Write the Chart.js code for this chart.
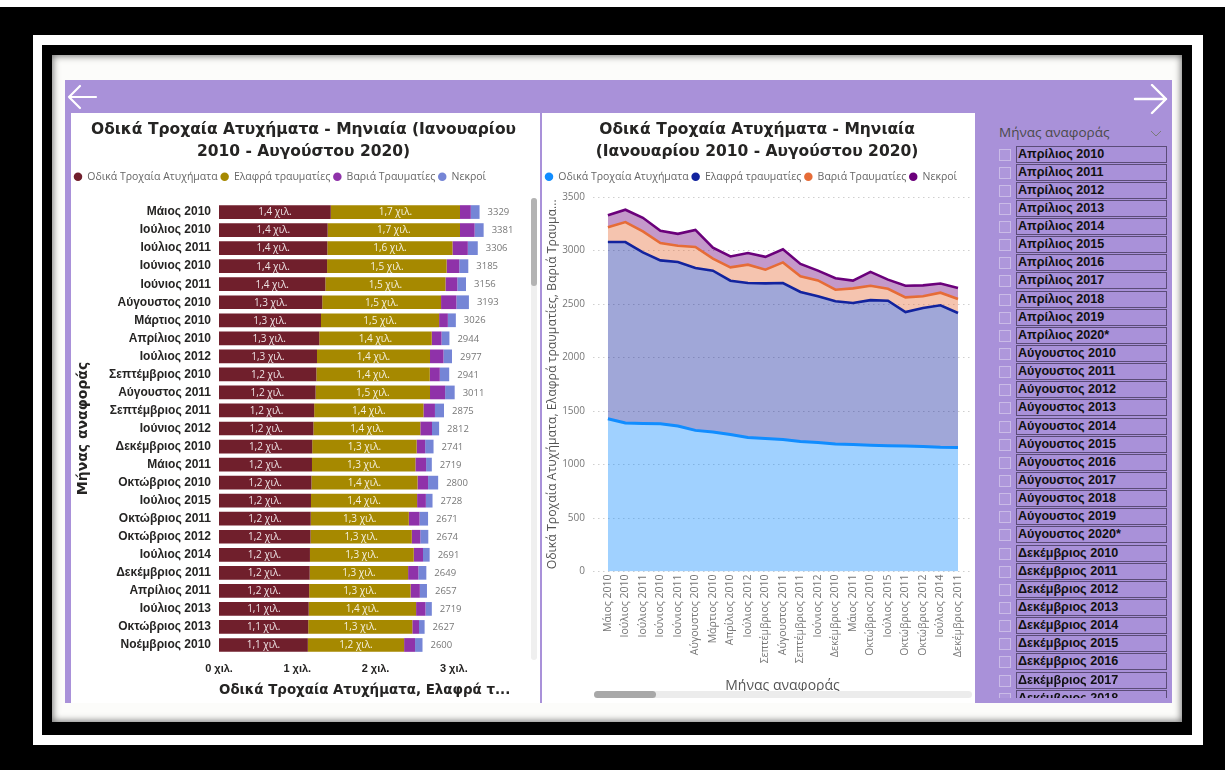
<!DOCTYPE html>
<html lang="el">
<head>
<meta charset="utf-8">
<title>Οδικά Τροχαία Ατυχήματα - Μηνιαία</title>
<script src="https://cdn.jsdelivr.net/npm/chart.js@4/dist/chart.umd.min.js"></script>
<style>
  html, body { margin:0; padding:0; }
  body { width:1225px; height:770px; overflow:hidden; background:#fff; position:relative; font-family:'Open Sans', sans-serif; }
  .abs { position:absolute; }
  #f1 { left:0; top:7px; width:1225px; height:763px; background:#000; }
  #f2 { left:33px; top:35px; width:1170px; height:710px; background:#fff; }
  #f3 { left:42px; top:45px; width:1150px; height:690px; background:#000; }
  #f4 { left:52px; top:55px; width:1130px; height:667px; background:#fcfcfa; box-shadow: inset 0 0 7px 1px rgba(0,0,0,0.55); }
  #panel { left:65px; top:80px; width:1107px; height:623px; background:#a991d9; }
  #cardL { left:71px; top:113px; width:469px; height:590px; background:#fff; }
  #cardR { left:542px; top:113px; width:433px; height:590px; background:#fff; }
  #barChart { left:71px; top:113px; }
  #areaChart { left:542px; top:113px; }
  #vTrack { left:531px; top:198px; width:6px; height:462px; background:#efefef; border-radius:3px; }
  #vThumb { left:531px; top:198px; width:6px; height:88px; background:#b3b3b3; border-radius:3px; }
  #hTrack { left:594px; top:691px; width:378px; height:7px; background:#ececec; border-radius:4px; }
  #hThumb { left:594px; top:691px; width:62px; height:7px; background:#a8a8a8; border-radius:4px; }
  #slTitle { left:999px; top:123px; font-size:13.5px; color:#4a4a4a; white-space:nowrap; }
  #slList { left:980px; top:144px; width:192px; height:554px; overflow:hidden; }
  .row { position:absolute; left:0; width:192px; height:17px; }
  .chk { position:absolute; left:19px; top:3px; width:10px; height:10px; border:1px solid rgba(255,255,255,0.35); background:rgba(255,255,255,0.06); }
  .lbl { position:absolute; left:36px; top:0; width:151px; height:17px; box-sizing:border-box; border:1px solid #5b4c78;
         font-family:'Liberation Sans', Arial, sans-serif; font-weight:bold; font-size:12.6px; line-height:15px; color:#111; padding-left:1px; white-space:nowrap; }
</style>
</head>
<body>
<div id="f1" class="abs"></div>
<div id="f2" class="abs"></div>
<div id="f3" class="abs"></div>
<div id="f4" class="abs"></div>
<div id="panel" class="abs"></div>
<svg class="abs" style="left:66px;top:84px" width="32" height="28"><path d="M3,13 H30 M3,13 L14,2 M3,13 L14,24" stroke="#fff" stroke-width="2.2" fill="none" stroke-linecap="round"/></svg>
<svg class="abs" style="left:1133px;top:84px" width="36" height="32"><path d="M2,15 H33 M33,15 L19,1 M33,15 L19,29" stroke="#fff" stroke-width="2.4" fill="none" stroke-linecap="round"/></svg>
<div id="cardL" class="abs"></div>
<div id="cardR" class="abs"></div>
<canvas id="barChart" class="abs" width="469" height="590"></canvas>
<canvas id="areaChart" class="abs" width="433" height="590"></canvas>
<div id="vTrack" class="abs"></div>
<div id="vThumb" class="abs"></div>
<div id="hTrack" class="abs"></div>
<div id="hThumb" class="abs"></div>
<div id="slTitle" class="abs">Μήνας αναφοράς</div>
<svg class="abs" style="left:1150px;top:130px" width="12" height="8"><polyline points="1,1 6,6 11,1" stroke="#7a7a7a" stroke-width="1" fill="none"/></svg>
<div id="slList" class="abs"></div>

<script>
// ---------- DATA ----------
const months = ['Μάιος 2010','Ιούλιος 2010','Ιούλιος 2011','Ιούνιος 2010','Ιούνιος 2011','Αύγουστος 2010','Μάρτιος 2010','Απρίλιος 2010','Ιούλιος 2012','Σεπτέμβριος 2010','Αύγουστος 2011','Σεπτέμβριος 2011','Ιούνιος 2012','Δεκέμβριος 2010','Μάιος 2011','Οκτώβριος 2010','Ιούλιος 2015','Οκτώβριος 2011','Οκτώβριος 2012','Ιούλιος 2014','Δεκέμβριος 2011','Απρίλιος 2011','Ιούλιος 2013','Οκτώβριος 2013','Νοέμβριος 2010'];
const accidents      = [1428,1388,1384,1381,1359,1319,1303,1281,1252,1244,1234,1216,1206,1191,1188,1181,1175,1172,1169,1162,1159,1152,1146,1140,1135];
const lightInjured   = [1651,1691,1599,1527,1534,1518,1509,1437,1444,1449,1462,1396,1366,1334,1321,1355,1356,1253,1294,1326,1257,1295,1372,1330,1230];
const seriousInjured = [138,187,196,162,152,196,112,125,172,128,193,147,149,109,137,135,112,137,109,118,131,119,120,85,140];
const deaths         = [112,115,127,115,111,160,102,101,109,120,122,116,91,107,73,129,85,109,102,85,102,91,81,72,95];
const seriesNames = ['Οδικά Τροχαία Ατυχήματα','Ελαφρά τραυματίες','Βαριά Τραυματίες','Νεκροί'];
const areaMonthCount = 21;               // months visible in the area chart
const barTickValues = [0,1000,2000,3000];
const barTickLabels = ['0 χιλ.','1 χιλ.','2 χιλ.','3 χιλ.'];
const slicerMonths = ['Απρίλιος 2010','Απρίλιος 2011','Απρίλιος 2012','Απρίλιος 2013','Απρίλιος 2014','Απρίλιος 2015','Απρίλιος 2016','Απρίλιος 2017','Απρίλιος 2018','Απρίλιος 2019','Απρίλιος 2020*','Αύγουστος 2010','Αύγουστος 2011','Αύγουστος 2012','Αύγουστος 2013','Αύγουστος 2014','Αύγουστος 2015','Αύγουστος 2016','Αύγουστος 2017','Αύγουστος 2018','Αύγουστος 2019','Αύγουστος 2020*','Δεκέμβριος 2010','Δεκέμβριος 2011','Δεκέμβριος 2012','Δεκέμβριος 2013','Δεκέμβριος 2014','Δεκέμβριος 2015','Δεκέμβριος 2016','Δεκέμβριος 2017','Δεκέμβριος 2018'];

// ---------- SLICER ----------
const list = document.getElementById('slList');
slicerMonths.forEach((m, i) => {
  const r = document.createElement('div');
  r.className = 'row';
  r.style.top = (1.5 + i * 18.14) + 'px';
  r.innerHTML = '<div class="chk"></div><div class="lbl"></div>';
  r.querySelector('.lbl').textContent = m;
  list.appendChild(r);
});

// ---------- CHARTS ----------
Chart.defaults.font.family = "'Open Sans', sans-serif";
Chart.defaults.animation = false;
const allSeries = [accidents, lightInjured, seriousInjured, deaths];
const fmtK = v => (v / 1000).toFixed(1).replace('.', ',') + ' χιλ.';

function legendHeight(h) {
  return {
    id: 'legendHeight',
    afterInit(chart) {
      const lg = chart.legend; if (!lg) return;
      const f = lg.fit;
      lg.fit = function () { this.maxWidth += 40; f.call(this); this.height = h; };
    },
    afterLayout(chart) { if (chart.legend) chart.legend.right += 40; }
  };
}

const barLabels = {
  id: 'barLabels',
  afterDatasetsDraw(chart) {
    const ctx = chart.ctx;
    ctx.save();
    ctx.textBaseline = 'middle';
    ctx.font = "10px 'Open Sans'";
    ctx.fillStyle = 'rgba(255,255,255,0.88)';
    ctx.textAlign = 'center';
    [0, 1].forEach(di => {
      chart.getDatasetMeta(di).data.forEach((el, i) => {
        const p = el.getProps(['x', 'y', 'base'], true);
        ctx.fillText(fmtK(chart.data.datasets[di].data[i]), (p.x + p.base) / 2, p.y + 0.5);
      });
    });
    const lastIdx = chart.data.datasets.length - 1;
    ctx.font = "9.5px 'Open Sans'";
    ctx.fillStyle = '#777';
    ctx.textAlign = 'left';
    chart.getDatasetMeta(lastIdx).data.forEach((el, i) => {
      const p = el.getProps(['x', 'y'], true);
      const total = chart.data.datasets.reduce((s, ds) => s + ds.data[i], 0);
      ctx.fillText(String(total), p.x + 8, p.y + 0.5);
    });
    ctx.restore();
  }
};

const heavy = (s, lh) => ({ family: "'DejaVu Sans', Verdana, sans-serif", size: s, weight: 'bold', lineHeight: lh || 1.2 });
const titleFont = heavy(15.5, 1.42);
const boldFont = (s) => ({ family: "'Liberation Sans', Arial, sans-serif", size: s, weight: 'bold' });
const legendLabels = { usePointStyle: true, pointStyle: 'circle', boxWidth: 8, boxHeight: 6, padding: 3, color: '#666', font: { size: 10.5 } };

// Left: stacked horizontal bars
const barColors = ['#701F2C', '#A68900', '#8F32A9', '#7585D6'];
new Chart(document.getElementById('barChart'), {
  type: 'bar',
  data: {
    labels: months,
    datasets: allSeries.map((d, i) => ({
      label: seriesNames[i], data: d, backgroundColor: barColors[i], borderWidth: 0,
      categoryPercentage: 1, barPercentage: 0.76
    }))
  },
  options: {
    indexAxis: 'y', responsive: false, animation: false, events: [],
    layout: { padding: { left: 0, right: 4, top: 0, bottom: 4.6 } },
    plugins: {
      title: { display: true, text: ['Οδικά Τροχαία Ατυχήματα - Μηνιαία (Ιανουαρίου', '2010 - Αυγούστου 2020)'],
               color: '#252423', font: titleFont, padding: { top: 6, bottom: 5.5 } },
      legend: { display: true, position: 'top', align: 'start', labels: legendLabels },
      tooltip: { enabled: false }
    },
    scales: {
      x: {
        stacked: true, min: 0, max: 4050,
        afterBuildTicks: s => { s.ticks = barTickValues.map(v => ({ value: v })); },
        ticks: { callback: (v) => barTickLabels[barTickValues.indexOf(v)], color: '#252423', font: boldFont(11), padding: 8, maxRotation: 0 },
        grid: { display: false, drawTicks: false }, border: { display: false },
        title: { display: true, align: 'start', text: 'Οδικά Τροχαία Ατυχήματα, Ελαφρά τ...', color: '#252423', font: heavy(13.4), padding: 0 },
        afterFit: s => { s.height = 44.4; }
      },
      y: {
        stacked: true,
        ticks: { color: '#252423', font: boldFont(12), padding: 8, autoSkip: false },
        grid: { display: false, drawTicks: false }, border: { display: false },
        title: { display: true, text: 'Μήνας αναφοράς', color: '#252423', font: heavy(14), padding: { top: 3.6, bottom: 0 } },
        afterFit: s => { s.width = 148; }
      }
    }
  },
  plugins: [legendHeight(34.5), barLabels]
});

// Right: stacked area
const lineColors = ['#118DFF', '#12239E', '#E66C37', '#6B007B'];
const lineFills = ['rgba(17,141,255,0.4)', 'rgba(18,35,158,0.4)', 'rgba(230,108,55,0.4)', 'rgba(107,0,123,0.4)'];
const areaMonths = months.slice(0, areaMonthCount);
new Chart(document.getElementById('areaChart'), {
  type: 'line',
  data: {
    datasets: allSeries.map((d, i) => ({
      label: seriesNames[i],
      data: d.slice(0, areaMonthCount).map((v, j) => ({ x: j, y: v })),
      borderColor: lineColors[i], backgroundColor: lineFills[i],
      borderWidth: i === 0 ? 3 : 2.6, pointRadius: 0, tension: 0,
      fill: i === 0 ? 'origin' : '-1'
    }))
  },
  options: {
    responsive: false, animation: false, events: [],
    layout: { padding: { left: 0, right: 3, top: 0, bottom: 8.6 } },
    plugins: {
      title: { display: true, text: ['Οδικά Τροχαία Ατυχήματα - Μηνιαία', '(Ιανουαρίου 2010 - Αυγούστου 2020)'],
               color: '#252423', font: titleFont, padding: { top: 6, bottom: 5.5 } },
      legend: { display: true, position: 'top', align: 'start',
                labels: Object.assign({}, legendLabels, {
                  generateLabels: (chart) => chart.data.datasets.map((ds, i) => ({
                    text: ds.label, fillStyle: ds.borderColor, strokeStyle: ds.borderColor, lineWidth: 0,
                    pointStyle: 'circle', hidden: false, datasetIndex: i, fontColor: '#666' })) }) },
      tooltip: { enabled: false }
    },
    scales: {
      x: {
        type: 'linear', min: -0.85, max: 20.8,
        afterBuildTicks: s => { s.ticks = areaMonths.map((_, i) => ({ value: i })); },
        ticks: { autoSkip: false, minRotation: 90, maxRotation: 90, padding: 3, color: '#777', font: { size: 10.5 },
                 callback: (v) => areaMonths[v] },
        grid: { display: false, drawTicks: false }, border: { display: false },
        title: { display: true, text: 'Μήνας αναφοράς', color: '#555', font: { size: 14 }, padding: 0 },
        afterFit: s => { s.height = 122.9; }
      },
      y: {
        stacked: true, min: 0, max: 3500,
        ticks: { stepSize: 500, color: '#777', font: { size: 10 }, padding: 8, callback: (v) => String(v) },
        grid: { color: '#cfcfcf', lineWidth: 1, drawTicks: false },
        border: { display: false, dash: [1.5, 3.5] },
        title: { display: true, text: 'Οδικά Τροχαία Ατυχήματα, Ελαφρά τραυματίες, Βαριά Τραυμα...', color: '#555', font: { size: 12.3 }, padding: { top: 3.6, bottom: 0 } },
        afterFit: s => { s.width = 51; }
      }
    }
  },
  plugins: [legendHeight(28.5)]
});
</script>
</body>
</html>
